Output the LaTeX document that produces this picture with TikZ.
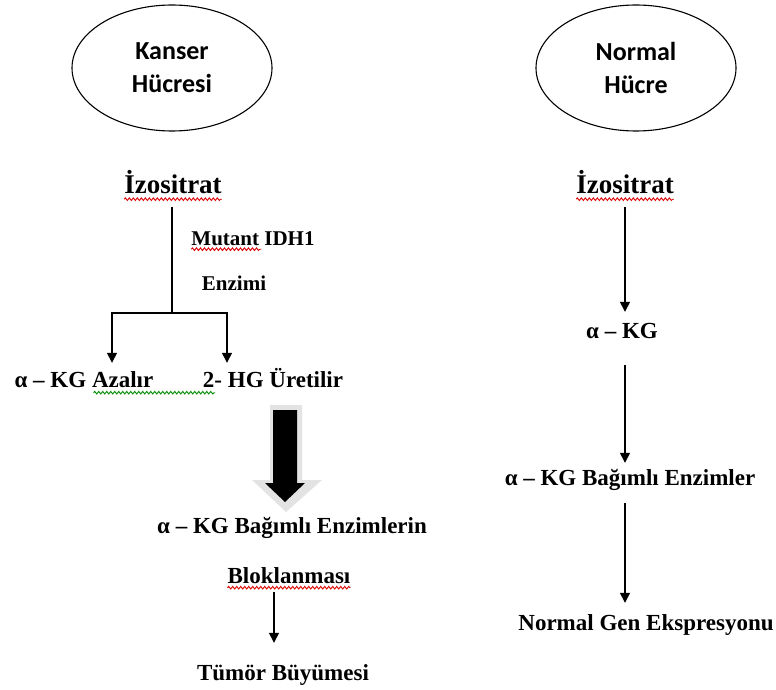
\documentclass[tikz,border=0pt]{standalone}
\usepackage{fontspec}
\setmainfont{Liberation Serif}
\newfontfamily\calibfont{Carlito}
\usetikzlibrary{shapes.geometric,arrows.meta,decorations.pathmorphing}
\tikzset{
  cell/.style={draw, line width=1.1pt, ellipse, minimum width=200pt, minimum height=126pt,
    font=\calibfont\bfseries\fontsize{26}{33}\selectfont, align=center, inner sep=0pt},
  lbl/.style={font=\bfseries\fontsize{23}{27}\selectfont, inner sep=0pt, text height=16pt, text depth=5pt},
  lblsmall/.style={font=\bfseries\fontsize{21}{25}\selectfont, inner sep=0pt, text height=15pt, text depth=5pt},
  lblbig/.style={font=\bfseries\fontsize{27}{31}\selectfont, inner sep=0pt, text height=18pt, text depth=6pt},
  arr/.style={line width=1.4pt, -{Triangle[length=10pt,width=10pt]}},
  plainline/.style={line width=1.4pt},
  spell/.style={line width=0.9pt, decorate, decoration={snake, amplitude=1.3pt, segment length=4pt}},
}
\begin{document}
\begin{tikzpicture}[x=1pt,y=-1pt]
\useasboundingbox (0,0) rectangle (776,690);
% cells
\node[cell] (cellL) at (172,68) {Kanser\\Hücresi};
\node[cell] (cellR) at (636,68) {Normal\\Hücre};
% left column
\node[lblbig] (izoL) at (173,187) {İzositrat};
\node[lblsmall] (mutant) at (253,240) {Mutant IDH1};
\node[lblsmall] (enzimi) at (234,285) {Enzimi};
\node[lbl] (azalir) at (84,382) {α – KG Azalır};
\node[lbl] (hg) at (273,382) {2- HG Üretilir};
\node[lbl] (blok1) at (292,528) {α – KG Bağımlı Enzimlerin};
\node[lbl] (blok2) at (289,578) {Bloklanması};
\node[lbl] (tumor) at (283,675) {Tümör Büyümesi};
% right column
\node[lblbig] (izoR) at (625,187) {İzositrat};
\node[lbl] (kgR) at (622,333) {α – KG};
\node[lbl] (enzR) at (630,480) {α – KG Bağımlı Enzimler};
\node[lbl] (genR) at (646,625) {Normal Gen Ekspresyonu};
% left branch
\coordinate (brL) at (172,313);
\coordinate (bL) at (112,313);
\coordinate (bR) at (227,313);
\draw[plainline, shorten <=8pt] (izoL.south -| brL) -- (brL);
\draw[arr, shorten >=8.5pt] (brL) -- (bL) -- (bL |- azalir.north);
\draw[arr, shorten >=8.5pt] (brL) -- (bR) -- (bR |- hg.north);
% big arrow
\fill[gray!22] (270,405) -- (302,405) -- (302,480) -- (322,480) -- (286,512) -- (252,480) -- (270,480) -- cycle;
\fill[black] (273,410) -- (297,410) -- (297,483) -- (305,483) -- (285,502) -- (265,483) -- (273,483) -- cycle;
% bottom left arrow
\draw[arr, shorten <=3.5pt, shorten >=21.5pt] ([xshift=-15pt]blok2.south) -- ([xshift=-15pt]blok2.south |- tumor.north);
% right arrows
\draw[arr, shorten <=8pt, shorten >=10.5pt] (izoR.south) -- (izoR.south |- kgR.north);
\draw[arr, shorten <=21.5pt, shorten >=6.5pt] (kgR.south -| izoR.south) -- (enzR.north -| izoR.south);
\draw[arr, shorten <=12.5pt, shorten >=11.5pt] (enzR.south -| izoR.south) -- (genR.north -| izoR.south);
% spell-check underlines
\draw[spell, red!85!black] (izoL.south west) -- (izoL.south east);
\draw[spell, red!85!black] (izoR.south west) -- (izoR.south east);
\draw[spell, red!85!black] ([yshift=1pt]mutant.south west) -- ++(70,0);
\draw[spell, red!85!black] ([yshift=1pt]blok2.south west) -- ([yshift=1pt]blok2.south east);
\draw[spell, green!55!black] ([xshift=79pt]azalir.south west) -- ([xshift=12pt]hg.south west);
\end{tikzpicture}
\end{document}
